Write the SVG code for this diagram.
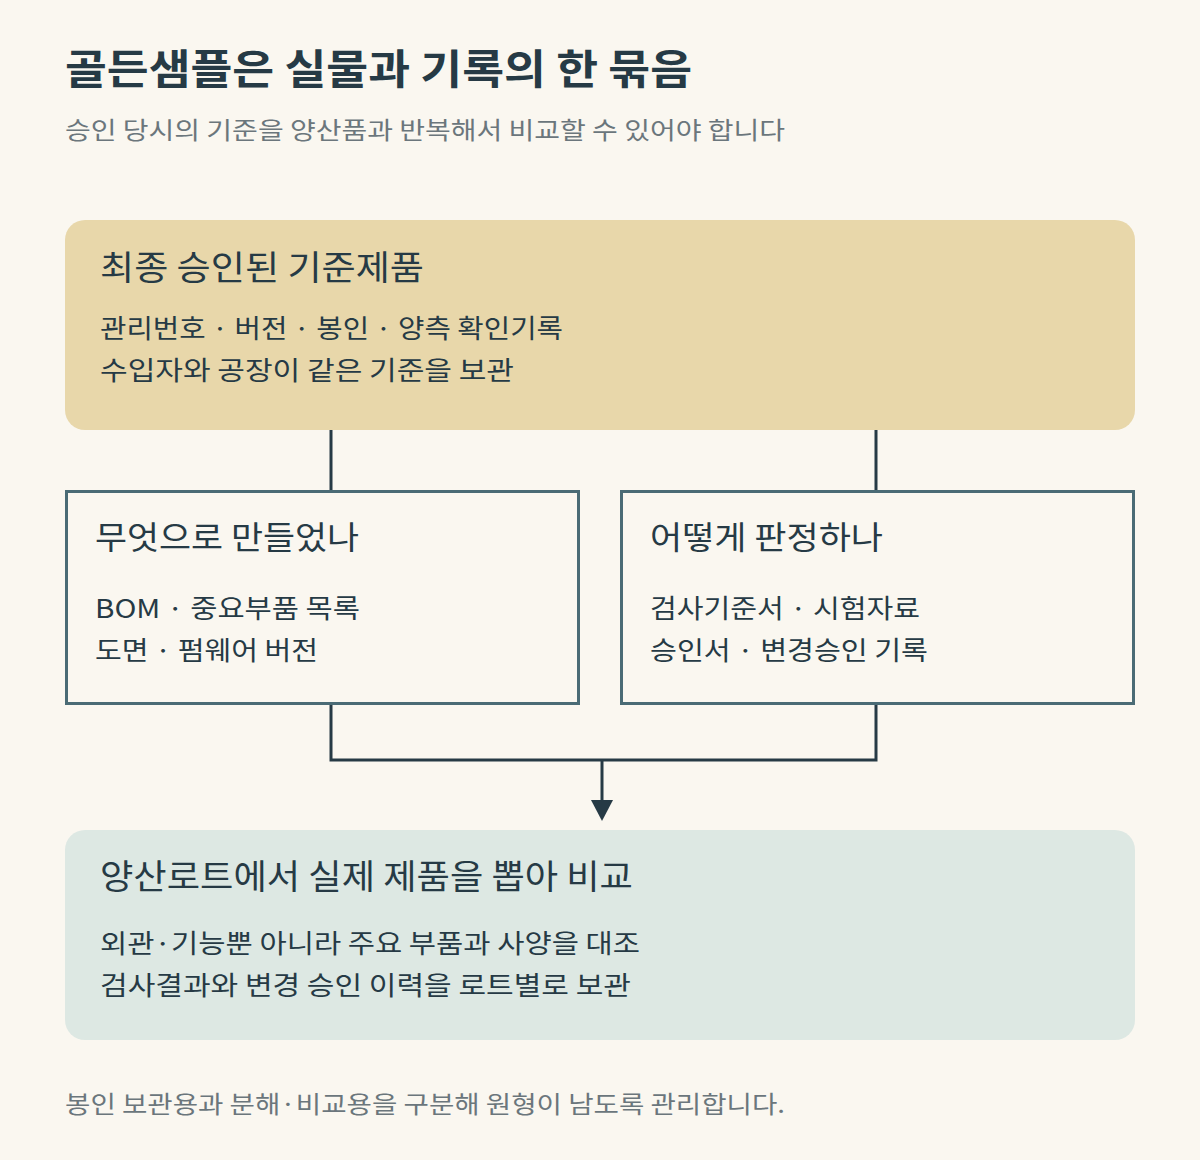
<svg xmlns="http://www.w3.org/2000/svg" width="1200" height="1160" viewBox="0 0 1200 1160">
<style>
text{font-family:"Noto Sans CJK KR","Noto Sans",sans-serif;fill:#263a45}
.h{font-size:34px}.b{font-size:26px}.m{font-size:32px}
.g{fill:#6b767c;font-size:24px}
.c{stroke:#263a45;stroke-width:3;fill:none}
</style>
<defs><marker id="a" markerWidth="10" markerHeight="10" refX="5" refY="5" orient="auto" markerUnits="userSpaceOnUse" viewBox="0 0 10 10"><path d="M0,0L10,5L0,10z" fill="#263a45"/></marker></defs>
<rect width="1200" height="1160" fill="#faf7f0"/>
<text x="65" y="84" font-size="41" font-weight="bold" textLength="627" lengthAdjust="spacingAndGlyphs">골든샘플은 실물과 기록의 한 묶음</text>
<text x="65" y="139" class="g" textLength="720" lengthAdjust="spacingAndGlyphs">승인 당시의 기준을 양산품과 반복해서 비교할 수 있어야 합니다</text>
<g id="top"><rect x="65" y="220" width="1070" height="210" rx="20" fill="#e8d7aa"/>
<text x="100" y="280" class="h" textLength="324" lengthAdjust="spacingAndGlyphs">최종 승인된 기준제품</text>
<text x="100" y="338" class="b" textLength="463" lengthAdjust="spacingAndGlyphs">관리번호 · 버전 · 봉인 · 양측 확인기록</text>
<text x="100" y="380" class="b" textLength="414" lengthAdjust="spacingAndGlyphs">수입자와 공장이 같은 기준을 보관</text></g>
<g id="left"><rect x="66.5" y="491.5" width="512" height="212" fill="#faf7f0" stroke="#4a6b75" stroke-width="3"/>
<text x="95" y="549" class="m" textLength="264" lengthAdjust="spacingAndGlyphs">무엇으로 만들었나</text>
<text x="95" y="618" class="b" textLength="265" lengthAdjust="spacingAndGlyphs">BOM · 중요부품 목록</text>
<text x="95" y="660" class="b" textLength="223" lengthAdjust="spacingAndGlyphs">도면 · 펌웨어 버전</text></g>
<g id="right"><rect x="621.5" y="491.5" width="512" height="212" fill="#faf7f0" stroke="#4a6b75" stroke-width="3"/>
<text x="650" y="549" class="m" textLength="233" lengthAdjust="spacingAndGlyphs">어떻게 판정하나</text>
<text x="650" y="618" class="b" textLength="270" lengthAdjust="spacingAndGlyphs">검사기준서 · 시험자료</text>
<text x="650" y="660" class="b" textLength="278" lengthAdjust="spacingAndGlyphs">승인서 · 변경승인 기록</text></g>
<g id="bottom"><rect x="65" y="830" width="1070" height="210" rx="20" fill="#dde8e3"/>
<text x="100" y="889" class="h" textLength="533" lengthAdjust="spacingAndGlyphs">양산로트에서 실제 제품을 뽑아 비교</text>
<text x="100" y="953" class="b" textLength="540" lengthAdjust="spacingAndGlyphs">외관·기능뿐 아니라 주요 부품과 사양을 대조</text>
<text x="100" y="995" class="b" textLength="531" lengthAdjust="spacingAndGlyphs">검사결과와 변경 승인 이력을 로트별로 보관</text></g>
<g id="connectors">
<path class="c" d="M331,430V490M876,430V490"/>
<path class="c" d="M331,705V760H876V705"/>
<path class="c" d="M602,760V803"/>
<path d="M591,800L613,800L602,821z" fill="#263a45"/>
</g>
<text x="65" y="1113" class="g" textLength="720" lengthAdjust="spacingAndGlyphs">봉인 보관용과 분해·비교용을 구분해 원형이 남도록 관리합니다.</text>
</svg>
